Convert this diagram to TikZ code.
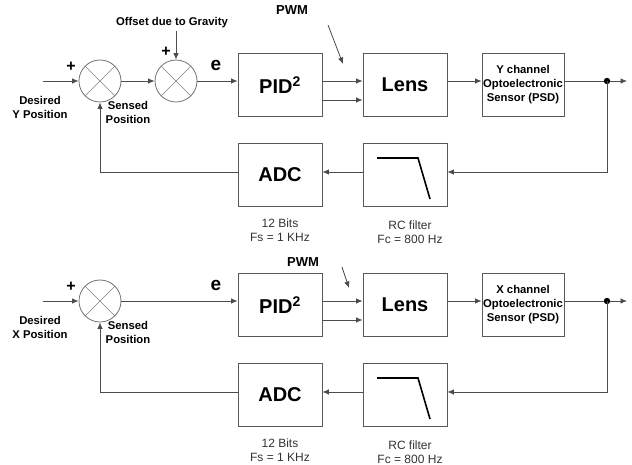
\documentclass[tikz,border=0pt]{standalone}
\usepackage{fontspec}
\setmainfont{Liberation Sans}
\usetikzlibrary{arrows.meta}
\tikzset{
  blk/.style={draw=black!65, line width=0.8pt, minimum width=84pt, minimum height=63pt, inner sep=0pt},
  summer/.style={draw=black!55, circle, minimum size=42pt, inner sep=0pt, line width=0.8pt},
  sig/.style={draw=black!70, line width=0.8pt, -{Latex[length=6.5pt,width=5.5pt]}},
  wire/.style={draw=black!70, line width=0.8pt},
  lbl/.style={font=\bfseries\fontsize{11.3}{14}\selectfont, align=center, inner sep=0pt},
  note/.style={font=\fontsize{12}{14}\selectfont, align=center, text=black!80, inner sep=0pt},
  big/.style={font=\bfseries\fontsize{20}{24}\selectfont},
}
\begin{document}
\begin{tikzpicture}[x=1pt, y=-1pt]
  \useasboundingbox (0,0) rectangle (632,465);

  % both channels
  \foreach \ch/\dy in {Y/0, X/220} {
    % summing junction
    \node[summer] (sa\ch) at (100,81+\dy) {};
    \draw[black!50, line width=0.7pt] (sa\ch.45) -- (sa\ch.225) (sa\ch.135) -- (sa\ch.315);
    \coordinate (in\ch) at (43,81+\dy);
    \draw[sig] (in\ch) -- (sa\ch.west);
    \node[font=\bfseries\fontsize{16}{16}\selectfont] (plus\ch) at (71,67+\dy) {+};
    \node[lbl] (des\ch) at (40,107+\dy) {Desired\\\ch\ Position};
    \node[lbl] (sen\ch) at (128,112+\dy) {Sensed\\Position};
    \node[font=\bfseries\fontsize{19}{19}\selectfont] (e\ch) at (216,65+\dy) {e};

    % forward path
    \node[blk, big] (pid\ch) at (280,85+\dy) {PID\textsuperscript{2}};
    \node[blk, big] (lens\ch) at (405,85+\dy) {Lens};
    \node[blk, lbl, minimum width=82pt] (psd\ch) at (523,85+\dy) {\ch\ channel\\Optoelectronic\\Sensor (PSD)};
    \draw[sig] (pid\ch.east |- sa\ch) -- (lens\ch.west |- sa\ch);
    \draw[sig] ([yshift=-19pt]pid\ch.east |- sa\ch) -- ([yshift=-19pt]lens\ch.west |- sa\ch);
    \draw[sig] (lens\ch.east |- sa\ch) -- (psd\ch.west |- sa\ch);
    \coordinate (tap\ch) at (607,81+\dy);
    \coordinate (out\ch) at (627,81+\dy);
    \draw[sig] (psd\ch.east |- tap\ch) -- (out\ch);
    \fill[black] (tap\ch) circle (3.2pt);

    % feedback path
    \node[blk, big] (adc\ch) at (280,175+\dy) {ADC};
    \node[blk] (rc\ch) at (405,175+\dy) {};
    \draw[line width=1.6pt] (377,158+\dy) -- (418,158+\dy) -- (430,199+\dy);
    \coordinate (fb\ch) at (607,172+\dy);
    \draw[sig] (tap\ch) -- (fb\ch) -- (fb\ch -| rc\ch.east);
    \draw[sig] (rc\ch.west |- fb\ch) -- (adc\ch.east |- fb\ch);
    \draw[sig] (adc\ch.west |- fb\ch) -- (sa\ch.south |- fb\ch) -- (sa\ch.south);
    \node[note] (adcn\ch) at (280,230+\dy) {12 Bits\\Fs = 1 KHz};
    \node[note] (rcn\ch) at (410,232+\dy) {RC filter\\Fc = 800 Hz};
  }

  % gravity offset (Y only)
  \node[summer] (sb) at (176,81) {};
  \draw[black!50, line width=0.7pt] (sb.45) -- (sb.225) (sb.135) -- (sb.315);
  \draw[sig] (saY.east) -- (sb.west);
  \draw[sig] (sb.east) -- (sb.east -| pidY.west);
  \node[lbl] (grav) at (172,23) {Offset due to Gravity};
  \coordinate (g) at (176,31);
  \draw[sig] (g) -- (sb.north);
  \node[font=\bfseries\fontsize{16}{16}\selectfont] (plusb) at (166,52) {+};
  \draw[sig] (saX.east) -- (saX.east -| pidX.west);

  % PWM
  \node[font=\bfseries\fontsize{13}{13}\selectfont] (pwmY) at (292,10) {PWM};
  \coordinate (pwY1) at (328,25);
  \coordinate (pwY2) at (343,64);
  \draw[sig] (pwY1) -- (pwY2);
  \node[font=\bfseries\fontsize{13}{13}\selectfont] (pwmX) at (303,262) {PWM};
  \coordinate (pwX1) at (342,267);
  \coordinate (pwX2) at (349,288);
  \draw[sig] (pwX1) -- (pwX2);
\end{tikzpicture}
\end{document}
